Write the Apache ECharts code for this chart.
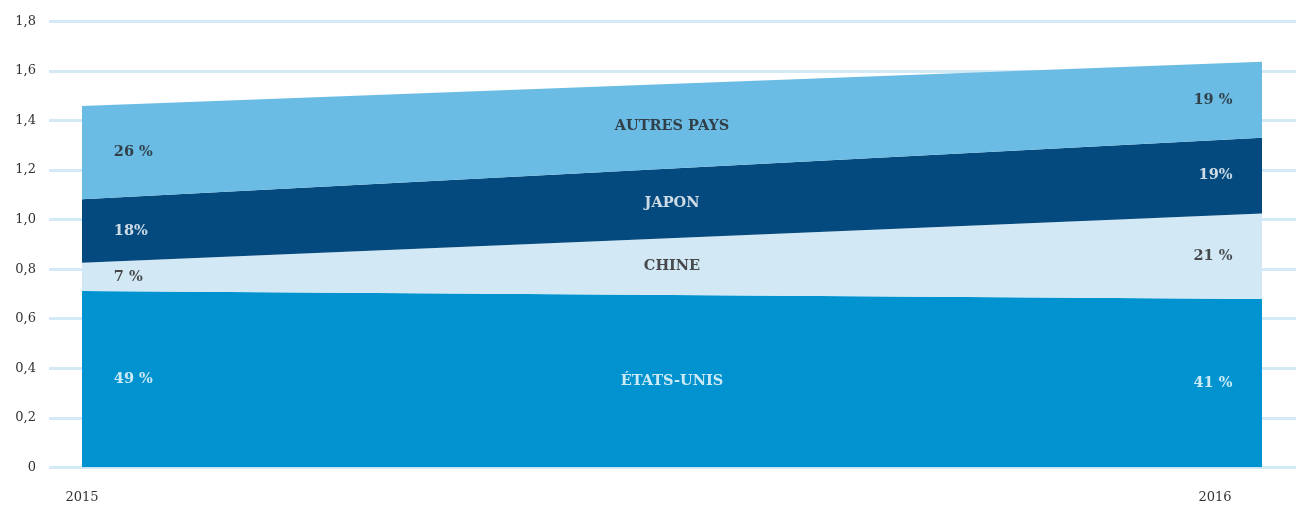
<!DOCTYPE html>
<html>
<head>
<meta charset="utf-8">
<script src="https://cdn.jsdelivr.net/npm/echarts@6/dist/echarts.min.js"></script>
<style>
  html, body { margin: 0; padding: 0; background: #fff; }
  #chart { width: 1303px; height: 508px; }
</style>
</head>
<body>
<div id="chart"></div>
<script>
// data
var years = ['2015', '2016'];
var seriesNames = ['ÉTATS-UNIS', 'CHINE', 'JAPON', 'AUTRES PAYS'];
var usa = [0.712, 0.680];
var chine = [0.114, 0.345];
var japon = [0.256, 0.306];
var autres = [0.377, 0.306];
var pct2015 = ['49 %', '7 %', '18%', '26 %'];
var pct2016 = ['41 %', '21 %', '19%', '19 %'];
var yMin = 0, yMax = 1.8, yStep = 0.2;

var values = [usa, chine, japon, autres];
var colors = ['#0093cf', '#d2e8f5', '#054a7f', '#6abce4'];
var textColors = ['#ffffff', '#231f20', '#ffffff', '#231f20'];
var labelFont = 'DejaVu Serif';

// build band bottoms/tops from the stack
var lows = [], highs = [];
var acc = [0, 0];
values.forEach(function(v){
    lows.push(acc.slice());
    acc = [acc[0] + v[0], acc[1] + v[1]];
    highs.push(acc.slice());
});

var labelPts = [];
for (var i = 0; i < values.length; i++) {
    var m0 = (lows[i][0] + highs[i][0]) / 2;
    var m1 = (lows[i][1] + highs[i][1]) / 2;
    var base = {color: textColors[i], fontFamily: labelFont, fontWeight: 'bold', fontSize: 14.5,
                textBorderWidth: 0, textShadowBlur: 0};
    labelPts.push({value: [0.027, m0], name: pct2015[i], label: Object.assign({align: 'left'}, base)});
    labelPts.push({value: [0.975, m1], name: pct2016[i], label: Object.assign({align: 'right'}, base)});
    labelPts.push({value: [0.5, (m0 + m1) / 2], name: seriesNames[i], label: Object.assign({align: 'center'}, base)});
}

var areaSeries = values.map(function(v, i){
    return {
        name: seriesNames[i],
        type: 'line',
        stack: 'total',
        xAxisIndex: 1,
        yAxisIndex: 1,
        symbol: 'none',
        lineStyle: {width: 0},
        areaStyle: {color: colors[i], opacity: 1},
        data: v
    };
});

var option = {
    animation: false,
    grid: [
        {left: 49, right: 7, top: 21.5, bottom: 40.7},
        {left: 82, right: 41, top: 21.5, bottom: 40.7}
    ],
    xAxis: [
        {gridIndex: 0, type: 'value', min: 0, max: 1, show: false},
        {
            gridIndex: 1, type: 'category', data: years, boundaryGap: false,
            axisLine: {show: false}, axisTick: {show: false},
            axisLabel: {
                margin: 24, color: '#333', fontFamily: labelFont, fontSize: 13,
                formatter: function(v){ return v === years[0] ? '{a|' + v + '}' : '{b|' + v + '}'; },
                rich: {
                    a: {fontFamily: labelFont, fontSize: 13, color: '#333'},
                    b: {fontFamily: labelFont, fontSize: 13, color: '#333', padding: [0, 94, 0, 0]}
                }
            }
        },
        {gridIndex: 1, type: 'value', min: 0, max: 1, show: false}
    ],
    yAxis: [
        {
            gridIndex: 0, type: 'value', min: yMin, max: yMax, interval: yStep,
            axisLine: {show: false}, axisTick: {show: false},
            axisLabel: {
                margin: 13, color: '#333', fontFamily: labelFont, fontSize: 13,
                formatter: function(v){ return v === 0 ? '0' : v.toFixed(1).replace('.', ','); }
            },
            splitLine: {lineStyle: {color: '#d4e9f6', width: 3}}
        },
        {gridIndex: 1, type: 'value', min: yMin, max: yMax, interval: yStep, show: false, splitLine: {show: false}}
    ],
    series: areaSeries.concat([{
        type: 'scatter',
        xAxisIndex: 2,
        yAxisIndex: 1,
        symbolSize: 0,
        z: 5,
        label: {show: true, position: 'inside', verticalAlign: 'middle', formatter: '{b}',
                textBorderWidth: 0},
        emphasis: {disabled: true},
        data: labelPts
    }])
};

var myChart = echarts.init(document.getElementById('chart'));
myChart.setOption(option);
</script>
</body>
</html>
